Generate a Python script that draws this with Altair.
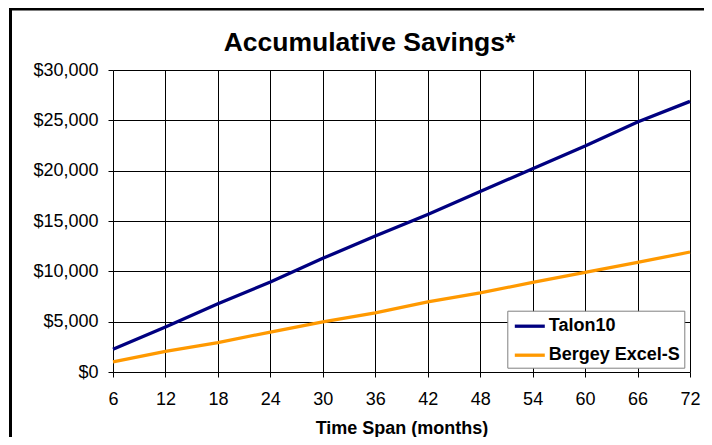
import altair as alt
import pandas as pd

# ---- data ----
months = [6, 12, 18, 24, 30, 36, 42, 48, 54, 60, 66, 72]
talon10 = [2250, 4470, 6790, 8940, 11290, 13500, 15650, 17920, 20200, 22440, 24830, 26880]
bergey = [1000, 2060, 2920, 3970, 4970, 5870, 6960, 7860, 8900, 9890, 10880, 11920]
series_names = ["Talon10", "Bergey Excel-S"]
series_colors = ["#000080", "#FF9900"]
x_ticks = [6, 12, 18, 24, 30, 36, 42, 48, 54, 60, 66, 72]
y_ticks = [0, 5000, 10000, 15000, 20000, 25000, 30000]

rows = []
for m, t, b in zip(months, talon10, bergey):
    rows.append({"month": m, "savings": t, "series": series_names[0]})
    rows.append({"month": m, "savings": b, "series": series_names[1]})
df = pd.DataFrame(rows)

FONT = "Liberation Sans"

lines = alt.Chart(df).mark_line(strokeWidth=3.3).encode(
    x=alt.X(
        "month:Q",
        scale=alt.Scale(domain=[6, 72], nice=False, zero=False),
        axis=alt.Axis(
            values=x_ticks,
            title="Time Span (months)",
            domain=False,
            tickColor="black",
            tickSize=5,
            labelFont=FONT,
            labelFontSize=18,
            labelColor="black",
            labelPadding=13,
            labelFlush=False,
            gridColor="black",
            gridWidth=1,
            gridOpacity=1,
            titleFont=FONT,
            titleFontSize=18,
            titleFontWeight="bold",
            titleColor="black",
            titlePadding=11,
        ),
    ),
    y=alt.Y(
        "savings:Q",
        scale=alt.Scale(domain=[0, 30000], nice=False),
        axis=alt.Axis(
            values=y_ticks,
            format="$,.0f",
            title=None,
            domain=False,
            tickColor="black",
            tickSize=5,
            labelFont=FONT,
            labelFontSize=18,
            labelColor="black",
            labelPadding=10,
            labelFlush=False,
            gridColor="black",
            gridWidth=1,
            gridOpacity=1,
        ),
    ),
    color=alt.Color(
        "series:N",
        scale=alt.Scale(domain=series_names, range=series_colors),
        legend=alt.Legend(
            title=None,
            orient="none",
            legendX=394.3,
            legendY=240.7,
            symbolType="M-1.5,0H1.5",
            symbolSize=400,
            symbolStrokeWidth=3.3,
            symbolOffset=7,
            labelFont=FONT,
            labelFontSize=18,
            labelFontWeight="bold",
            labelColor="black",
            labelOffset=7,
            padding=3.5,
            rowPadding=8,
            fillColor="white",
            strokeColor="#808080",
        ),
    ),
)

frame_src = alt.Chart(pd.DataFrame({"k": [0]}))
frame_left = frame_src.mark_rule(color="black", strokeWidth=3).encode(
    x=alt.value(-102.5), y=alt.value(-61.5), y2=alt.value(420)
)
frame_top = frame_src.mark_rule(color="black", strokeWidth=3).encode(
    x=alt.value(-104), x2=alt.value(700), y=alt.value(-61)
)

chart = (
    alt.layer(lines, frame_left, frame_top)
    .properties(
        width=577,
        height=302,
        autosize=alt.AutoSizeParams(type="none"),
        padding={"left": 105, "top": 62, "right": 14, "bottom": 65},
        title=alt.TitleParams(
            "Accumulative Savings*",
            font=FONT,
            fontSize=26.5,
            fontWeight="bold",
            color="black",
            anchor="middle",
            frame="group",
            baseline="alphabetic",
            dx=-32,
            dy=80,
            offset=10,
        ),
    )
    .configure_view(stroke="black", strokeWidth=3)
    .configure(background="white")
)

chart.save("out.html", embed_options={"renderer": "svg", "actions": False})
